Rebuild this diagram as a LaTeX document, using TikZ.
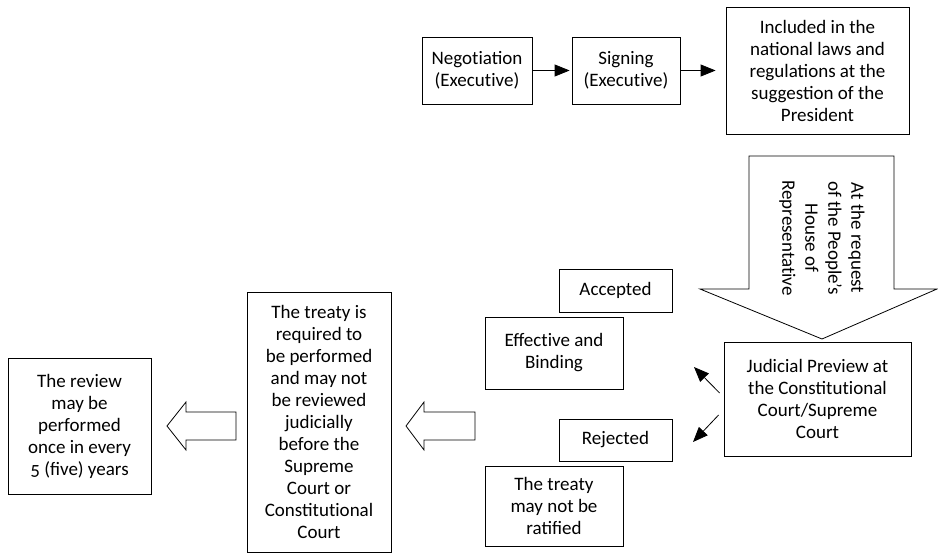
\documentclass[tikz,border=0pt]{standalone}
\usepackage{fontspec}
\setmainfont{Carlito}[Numbers=OldStyle]
\usetikzlibrary{arrows.meta}
\newcommand{\nl}{\kern0pt }
\begin{document}
\begin{tikzpicture}[x=1pt,y=-1pt,
  box/.style={draw, line width=0.8pt, inner sep=0pt, align=center, font=\fontsize{19}{22}\selectfont},
  arr/.style={line width=0.8pt, -{Triangle[length=15pt,width=12pt]}},
  hollow/.style={draw, line width=0.8pt, fill=white, line join=miter}]
\useasboundingbox (0,0) rectangle (938,556);
% top row
\node[box, minimum width=110pt, minimum height=67pt] (neg) at (477,70.5) {Negot\nl iation\\(Execut\nl ive)};
\node[box, minimum width=108pt, minimum height=67pt] (sign) at (626,70.5) {Signing\\(Execut\nl ive)};
\node[box, minimum width=183pt, minimum height=127pt] (incl) at (817.5,70.5) {Included in the\\national laws and\\regulations at the\\suggestion of the\\President};
\draw[arr] (neg.east) -- ([xshift=-2pt]sign.west);
\draw[arr] (sign.east) -- ([xshift=-10pt]incl.west);
% big down arrow
\draw[hollow] (749,156) -- (894,156) -- (894,289) -- (937,289) -- (822,339) -- (700,289) -- (749,289) -- cycle;
\node[align=center, rotate=-90, font=\fontsize{19}{23}\selectfont, inner sep=0pt] (req) at (822,238) {At the request\\of the People’s\\House of\\Representat\nl ive};
% judicial
\node[box, minimum width=187pt, minimum height=114pt] (jud) at (817.5,399) {Judicial Preview at\\the Constitut\nl ional\\Court/Supreme\\Court};
\node[box, minimum width=113pt, minimum height=43pt] (acc) at (615.5,290.5) {Accepted};
\node[box, minimum width=138pt, minimum height=72pt] (eff) at (554,353) {Effect\nl ive and\\Binding};
\node[box, minimum width=113pt, minimum height=42pt] (rej) at (615.5,440) {Rejected};
\node[box, minimum width=138pt, minimum height=80pt] (notrat) at (554,506) {The treaty\\may not be\\ratified};
\coordinate (upTip) at (694,367);
\coordinate (downTip) at (693,442);
\draw[arr] ([xshift=-4pt,yshift=6pt]jud.west) -- (upTip);
\draw[arr] ([xshift=-5pt,yshift=-16pt]jud.west) -- (downTip);
% left part
\node[box, minimum width=144pt, minimum height=260pt] (reqd) at (319,422) {The treaty is\\required to\\be performed\\and may not\\be reviewed\\judicially\\before the\\Supreme\\Court or\\Constitut\nl ional\\Court};
\node[box, minimum width=143pt, minimum height=136pt] (rev) at (79.5,426) {The review\\may be\\performed\\once in every\\5 (five) years};
% hollow left arrows
\draw[hollow] (406,426) -- (424,402) -- (424,412) -- (475,412) -- (475,440) -- (424,440) -- (424,450) -- cycle;
\draw[hollow] (167,426) -- (186,402) -- (186,412) -- (236,412) -- (236,440) -- (186,440) -- (186,450) -- cycle;
\end{tikzpicture}
\end{document}
